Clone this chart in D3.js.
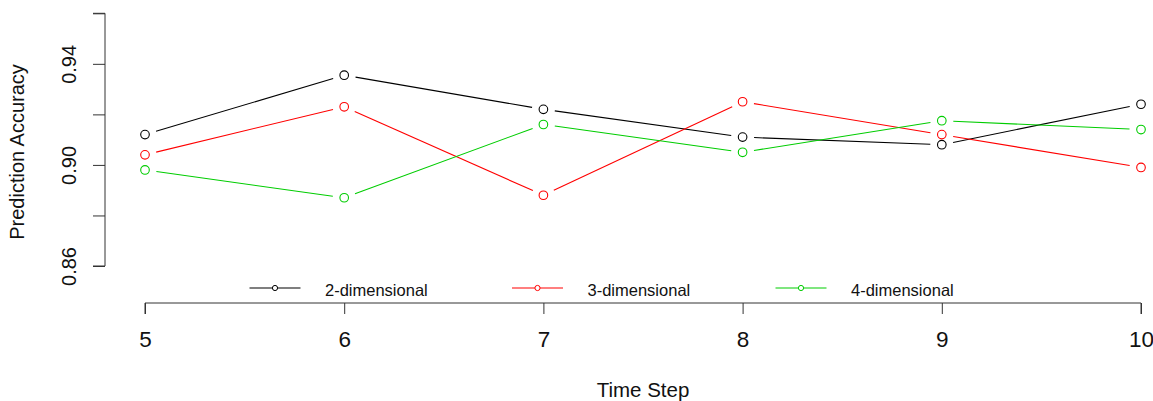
<!DOCTYPE html>
<html>
<head>
<meta charset="utf-8">
<script src="https://cdn.jsdelivr.net/npm/d3@7"></script>
<style>
  html, body { margin: 0; padding: 0; background: #fff; }
  svg { display: block; font-family: "Liberation Sans", Arial, sans-serif; }
</style>
</head>
<body>
<svg id="chart" width="1153" height="401"></svg>
<script>
// Prediction accuracy by time step for three model dimensionalities
const timeSteps = [5, 6, 7, 8, 9, 10];
const seriesNames = ["2-dimensional", "3-dimensional", "4-dimensional"];
const seriesColors = ["#000000", "#FF0000", "#00CD00"];
const acc2d = [0.912, 0.9355, 0.922, 0.911, 0.908, 0.924];
const acc3d = [0.904, 0.923, 0.888, 0.925, 0.912, 0.899];
const acc4d = [0.898, 0.887, 0.916, 0.905, 0.9175, 0.914];
const yTicks = [0.86, 0.88, 0.90, 0.92, 0.94, 0.96];
const yTickLabels = ["0.86", "", "0.90", "", "0.94", ""];
const xLabel = "Time Step";
const yLabel = "Prediction Accuracy";

const series = [acc2d, acc3d, acc4d].map((vals, i) => ({
  name: seriesNames[i],
  color: seriesColors[i],
  values: vals.map((v, j) => ({ t: timeSteps[j], v }))
}));

const svg = d3.select("#chart");

const x = d3.scaleLinear().domain([5, 10]).range([145, 1141]);
const y = d3.scaleLinear().domain([0.86, 0.96]).range([266, 13.3]);

// Y axis (ticks every 0.02, every other one labelled)
const yAxis = d3.axisLeft(y)
  .tickValues(yTicks)
  .tickSize(12)
  .tickPadding(16)
  .tickFormat((d, i) => yTickLabels[i]);
const gy = svg.append("g").attr("transform", "translate(105,0)").call(yAxis);
gy.select(".domain").attr("stroke", "#333").attr("d", `M-12,${y(0.96)}H0V${y(0.86)}H-12`);
gy.selectAll(".tick line").attr("stroke", "#333");
gy.selectAll(".tick text")
  .attr("font-size", 20)
  .attr("fill", "#111")
  .attr("text-anchor", "middle")
  .attr("dy", null)
  .attr("x", null)
  .attr("transform", "translate(-29,0) rotate(-90)");

// X axis
const xAxis = d3.axisBottom(x)
  .tickValues(timeSteps)
  .tickSize(11)
  .tickPadding(17)
  .tickFormat(d3.format("d"));
const gx = svg.append("g").attr("transform", "translate(0,303)").call(xAxis);
gx.select(".domain").attr("stroke", "#333").attr("d", `M${x(5)},11V0H${x(10)}V11`);
gx.selectAll(".tick line").attr("stroke", "#333");
gx.selectAll(".tick text").attr("font-size", 22.5).attr("fill", "#111");

// Axis titles
svg.append("text")
  .attr("x", x(7.5))
  .attr("y", 397)
  .attr("text-anchor", "middle")
  .attr("font-size", 20.5)
  .attr("fill", "#111")
  .text(xLabel);

svg.append("text")
  .attr("transform", "translate(24,152) rotate(-90)")
  .attr("text-anchor", "middle")
  .attr("font-size", 20)
  .attr("fill", "#111")
  .text(yLabel);

// Lines with gaps around the point markers
const gap = 11.5;
const plot = svg.append("g");
series.forEach(s => {
  const g = plot.append("g");
  const segs = d3.pairs(s.values).map(([a, b]) => {
    const x1 = x(a.t), y1 = y(a.v), x2 = x(b.t), y2 = y(b.v);
    const len = Math.hypot(x2 - x1, y2 - y1);
    const ux = (x2 - x1) / len, uy = (y2 - y1) / len;
    return [x1 + ux * gap, y1 + uy * gap, x2 - ux * gap, y2 - uy * gap];
  });
  g.selectAll("line")
    .data(segs)
    .join("line")
    .attr("x1", d => d[0]).attr("y1", d => d[1])
    .attr("x2", d => d[2]).attr("y2", d => d[3])
    .attr("stroke", s.color)
    .attr("stroke-width", 1.1);
  g.selectAll("circle")
    .data(s.values)
    .join("circle")
    .attr("cx", d => x(d.t))
    .attr("cy", d => y(d.v))
    .attr("r", 4.3)
    .attr("fill", "none")
    .attr("stroke", s.color)
    .attr("stroke-width", 1.1);
});

// Legend
const legendX = [249.5, 512, 775.5];
const legendY = 288;
const legend = svg.append("g");
series.forEach((s, i) => {
  const g = legend.append("g").attr("transform", `translate(${legendX[i]},${legendY})`);
  g.append("line").attr("x1", 0).attr("x2", 51).attr("y1", 0).attr("y2", 0)
    .attr("stroke", s.color).attr("stroke-width", 1.2);
  g.append("circle").attr("cx", 25.5).attr("cy", 0).attr("r", 2.6)
    .attr("fill", "#fff").attr("stroke", s.color).attr("stroke-width", 1);
  g.append("text").attr("x", 75.5).attr("y", 7.5)
    .attr("font-size", 16.5).attr("fill", "#111")
    .text(s.name);
});
</script>
</body>
</html>
